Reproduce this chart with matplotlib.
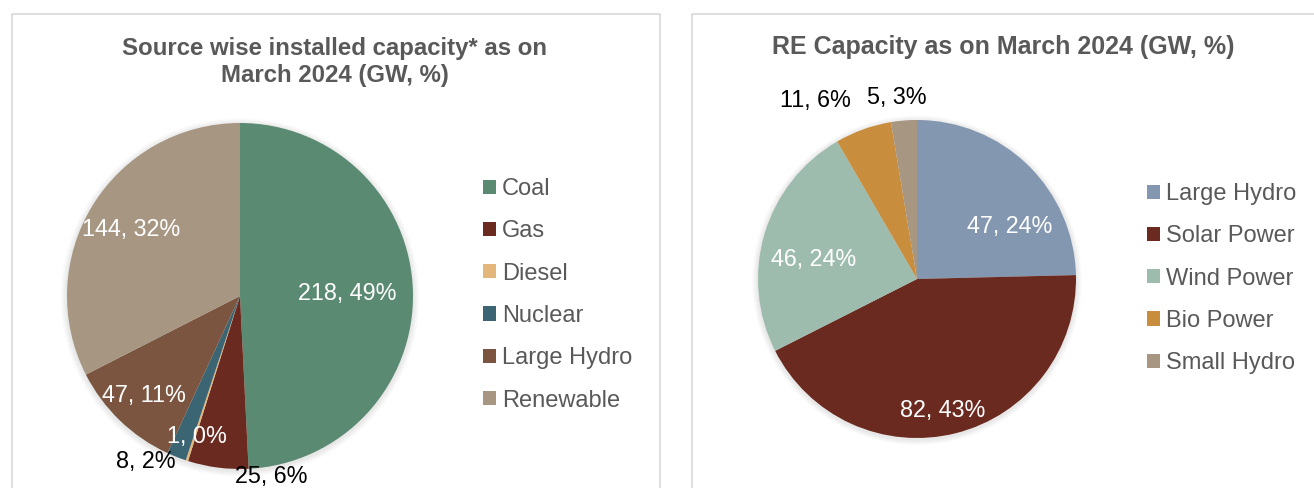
import matplotlib
matplotlib.use("Agg")
import matplotlib.pyplot as plt
from matplotlib.patches import Rectangle, Circle
import numpy as np

plt.rcParams['font.family'] = ['Liberation Sans', 'DejaVu Sans']

# ---------------- data ----------------
left_title = "Source wise installed capacity* as on\nMarch 2024 (GW, %)"
left_categories = ["Coal", "Gas", "Diesel", "Nuclear", "Large Hydro", "Renewable"]
left_values_gw = [218, 25, 1, 8, 47, 144]
left_share_pct = [49, 6, 0, 2, 11, 32]

right_title = "RE Capacity as on March 2024 (GW, %)"
right_categories = ["Large Hydro", "Solar Power", "Wind Power", "Bio Power", "Small Hydro"]
right_values_gw = [47, 82, 46, 11, 5]
right_share_pct = [24, 43, 24, 6, 3]

# ---------------- styles ----------------
left_colors = ["#5B8A72", "#6B2A1F", "#E3B67B", "#3C6574", "#7B5540", "#A69682"]
right_colors = ["#8497B0", "#6B2A1F", "#9DBCAE", "#C98E3D", "#A69682"]
# label placement: radial distance (in pie radii), angular shift (deg), colour
left_lab_r = [0.62, 1.06, 0.85, 1.10, 0.80, 0.74]
left_lab_shift = [0, 17, 1, -8, 0, 0]
left_lab_col = ["white", "black", "white", "black", "white", "white"]
right_lab_r = [0.67, 0.84, 0.66, 1.29, 1.15]
right_lab_shift = [-16, -3, 6, 10, 1.6]
right_lab_col = ["white", "white", "white", "black", "black"]

W, H = 1314, 488
fig = plt.figure(figsize=(W / 100, H / 100), dpi=100)
fig.patch.set_facecolor("white")

TXT = "#595959"
BORDER = "#D9D9D9"

# panel borders
fig.add_artist(Rectangle((12 / W, -0.2), (660 - 12) / W, 1.2 - 14 / H,
                         transform=fig.transFigure, fill=False,
                         edgecolor=BORDER, linewidth=1.2))
fig.add_artist(Rectangle((692 / W, -0.2), 1.0, 1.2 - 14 / H,
                         transform=fig.transFigure, fill=False,
                         edgecolor=BORDER, linewidth=1.2))


def draw_pie(rect, values, pcts, colors, lab_r, lab_shift, lab_col):
    ax = fig.add_axes(rect)
    # soft shadow
    for k in range(6):
        ax.add_patch(Circle((0.0, -0.008), 1.0 + 0.006 * (k + 1),
                            facecolor="black", alpha=0.016, linewidth=0,
                            zorder=0, clip_on=False))
    wedges, _ = ax.pie(values, colors=colors, startangle=90,
                       counterclock=False, radius=1.0,
                       wedgeprops=dict(linewidth=0))
    for w, v, p, r, s, c in zip(wedges, values, pcts, lab_r, lab_shift, lab_col):
        mid = np.deg2rad((w.theta1 + w.theta2) / 2 + s)
        ax.text(r * np.cos(mid), r * np.sin(mid), f"{v}, {p}%",
                ha="center", va="center", fontsize=16.8, color=c,
                zorder=5)
    ax.set_xlim(-1, 1)
    ax.set_ylim(-1, 1)
    ax.set_aspect("auto")
    ax.axis("off")
    return wedges


# left pie: centre (240, 296), radius 173
cx, cy, r = 240, 296, 173
lw = draw_pie([(cx - r) / W, (H - cy - r) / H, 2 * r / W, 2 * r / H],
              left_values_gw, left_share_pct, left_colors,
              left_lab_r, left_lab_shift, left_lab_col)

# right pie: centre (917, 279), radius 159
cx, cy, r = 917, 279, 159
rw = draw_pie([(cx - r) / W, (H - cy - r) / H, 2 * r / W, 2 * r / H],
              right_values_gw, right_share_pct, right_colors,
              right_lab_r, right_lab_shift, right_lab_col)

# titles
fig.text(335 / W, 1 - 62 / H, left_title, ha="center", va="center",
         fontsize=17.3, fontweight="bold", color=TXT, linespacing=1.23)
fig.text(1003 / W, 1 - 47 / H, right_title, ha="center", va="center",
         fontsize=18.0, fontweight="bold", color=TXT)

# legends
leg_kw = dict(frameon=False, fontsize=17.0, handlelength=0.55,
              handleheight=0.55, handletextpad=0.25, labelspacing=0.86,
              borderpad=0, borderaxespad=0, labelcolor=TXT, loc="upper left")
fig.legend(lw, left_categories, bbox_to_anchor=(483 / W, 1 - 178 / H), **leg_kw)
fig.legend(rw, right_categories, bbox_to_anchor=(1147 / W, 1 - 183 / H), **leg_kw)

fig.savefig("out.png", dpi=100, facecolor="white")
